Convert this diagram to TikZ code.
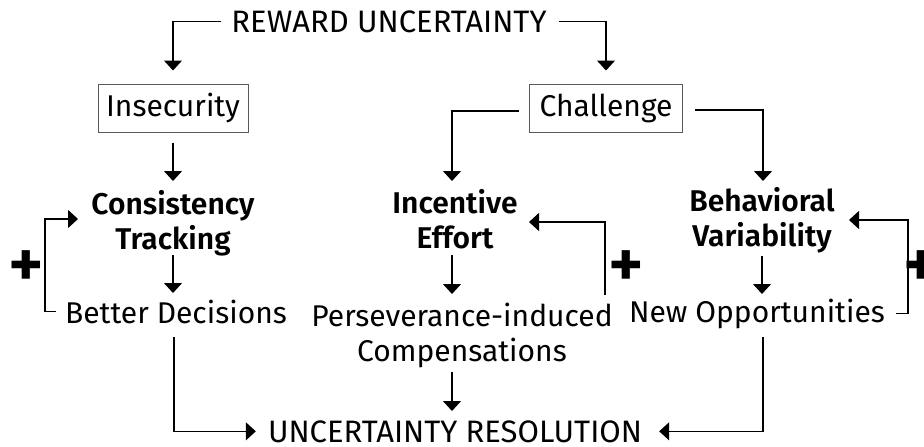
\documentclass[tikz,border=0pt]{standalone}
\usepackage{fontspec}
\setmainfont{Fira Sans}[BoldFont={Fira Sans SemiBold}]
\usetikzlibrary{arrows.meta}

\tikzset{
  lbl/.style={inner sep=0pt, align=center, font=\fontsize{30}{35}\selectfont},
  caps/.style={lbl, font=\fontsize{31}{35}\selectfont},
  key/.style={lbl, font=\fontsize{30}{35}\selectfont\bfseries},
  boxed/.style={lbl, draw=black!65, line width=1pt, minimum height=48pt},
  arr/.style={-{Triangle[width=18pt,length=10pt]}, line width=1.2pt},
  fb/.style={arr},
  plus/.style={inner sep=0pt, font=\fontsize{68}{68}\selectfont\bfseries}
}

\begin{document}
\begin{tikzpicture}[x=1pt,y=-1pt]
\useasboundingbox (0,0) rectangle (924,447);

% top and boxes
\node[caps, anchor=base] (rew) at (389,32) {REWARD UNCERTAINTY};
\node[boxed, minimum width=150pt] (insec) at (173,108) {Insecurity};
\node[boxed, minimum width=153pt] (chall) at (606,108) {Challenge};

% middle row
\node[key, anchor=north] (cons) at (173,190) {Consistency\\Tracking};
\node[key, anchor=north] (inc) at (455,189) {Incentive\\Effort};
\node[key, anchor=north] (beh) at (762,187) {Behavioral\\Variability};

% lower row
\node[lbl, anchor=base] (better) at (176,323) {Better Decisions};
\node[lbl, anchor=north] (pers) at (462,303) {Perseverance-induced\\Compensations};
\node[lbl, anchor=base] (newopp) at (757,322) {New Opportunities};

\node[caps, anchor=base] (res) at (455,442) {UNCERTAINTY RESOLUTION};

% signs of the loops
\node[plus] (p1) at (26,269) {+};
\node[plus] (p2) at (626,269) {+};
\node[plus] (p3) at (921,269) {+};

% branches
\draw[arr] ([xshift=-10pt]rew.west) -| ([yshift=13pt]insec.north);
\draw[arr] ([xshift=12pt]rew.east) -| ([yshift=13pt]chall.north);
\draw[arr] ([yshift=-10pt]insec.south) -- (173,181);
\draw[arr] ([xshift=-10pt,yshift=-3pt]chall.west) -| (452,181);
\draw[arr] ([xshift=12pt,yshift=-2pt]chall.east) -| (763,181);

\draw[arr] (173,255) -- (173,293);
\draw[arr] (452,255) -- (452,294);
\draw[arr] (762,256) -- (762,294);

% loops
\draw[fb] ([xshift=-9pt]better.west) -- ++(-11,0) |- (78,219);
\draw[fb] (605,295) |- (529,222);
\draw[fb] ([xshift=11pt]newopp.east) -- ++(12,0) |- (849,220);

% to the resolution
\draw[arr] (174,337) |- ([xshift=-12pt]res.west);
\draw[arr] (452,372) -- (452,411);
\draw[arr] (763,337) |- ([xshift=17pt]res.east);
\end{tikzpicture}
\end{document}
